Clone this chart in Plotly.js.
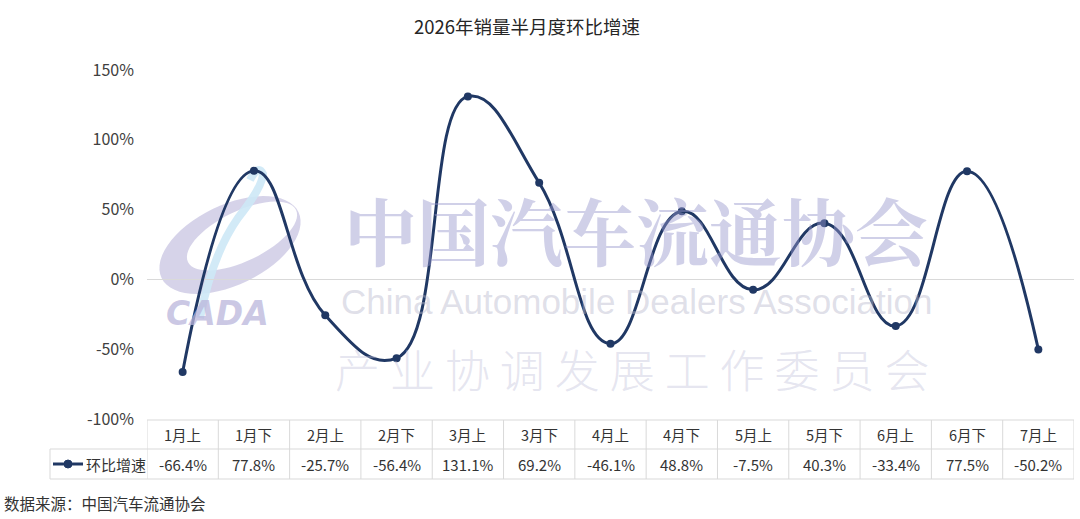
<!DOCTYPE html>
<html>
<head>
<meta charset="utf-8">
<script src="https://cdn.plot.ly/plotly-3.0.1.min.js"></script>
<style>html,body{margin:0;padding:0;background:#fff}#chart{width:1080px;height:519px}</style>
</head>
<body>
<div id="chart"></div>
<script>
// ---- data ----
var categories = ['1月上','1月下','2月上','2月下','3月上','3月下','4月上','4月下','5月上','5月下','6月上','6月下','7月上'];
var seriesName = '环比增速';
var values = [-66.4, 77.8, -25.7, -56.4, 131.1, 69.2, -46.1, 48.8, -7.5, 40.3, -33.4, 77.5, -50.2];
var yTickValues = [-100, -50, 0, 50, 100, 150];
var titleText = '2026年销量半月度环比增速';
var sourceText = '数据来源：中国汽车流通协会';

// ---- layout helpers (pixel -> paper) ----
var W = 1080, H = 519, L = 147, R = 6, T = 70, B = 100;
var PW = W - L - R, PH = H - T - B;
function X(px){ return (px - L) / PW; }
function Y(py){ return (H - B - py) / PH; }
var navy = '#203864';
var border = '#d9d9d9';
var cjk = '"Microsoft YaHei","Noto Sans CJK SC","Noto Sans",sans-serif';

var shapes = [];
var annotations = [];

// watermark logo (below traces)
function ellipsePts(cx, cy, a, b, rot, n, reverse){
  var pts = [];
  for (var i = 0; i <= n; i++){
    var t = (reverse ? -1 : 1) * 2 * Math.PI * i / n;
    var ex = a * Math.cos(t), ey = b * Math.sin(t);
    var c = Math.cos(rot), s = Math.sin(rot);
    pts.push([cx + ex * c - ey * s, cy + ex * s + ey * c]);
  }
  return pts;
}
function toPath(pts){
  return pts.map(function(p, i){ return (i ? 'L' : 'M') + X(p[0]).toFixed(5) + ',' + Y(p[1]).toFixed(5); }).join(' ') + ' Z';
}
var rot = -0.45;
var outer = ellipsePts(230, 245, 76, 40, rot, 60, false);
var inner = ellipsePts(242, 236, 60, 25, rot, 60, true);
shapes.push({type:'path', xref:'paper', yref:'paper', layer:'below', path: toPath(outer) + ' ' + toPath(inner),
  fillcolor:'rgba(204,200,228,0.8)', line:{width:0}});
shapes.push({type:'path', xref:'paper', yref:'paper', layer:'below',
  path: 'M' + X(200) + ',' + Y(318) + ' Q' + X(212) + ',' + Y(255) + ' ' + X(238) + ',' + Y(218) +
        ' Q' + X(262) + ',' + Y(188) + ' ' + X(263) + ',' + Y(174) +
        ' Q' + X(258) + ',' + Y(164) + ' ' + X(250) + ',' + Y(180),
  line:{color:'rgba(205,232,246,0.9)', width:8}});

// table grid
var yTop = Y(420), yMid = Y(449), yBot = Y(479);
shapes.push({type:'line', xref:'paper', yref:'paper', x0:0, x1:1, y0:yTop, y1:yTop, line:{color:border, width:1}});
shapes.push({type:'line', xref:'paper', yref:'paper', x0:X(50), x1:1, y0:yMid, y1:yMid, line:{color:border, width:1}});
shapes.push({type:'line', xref:'paper', yref:'paper', x0:X(50), x1:1, y0:yBot, y1:yBot, line:{color:border, width:1}});
shapes.push({type:'line', xref:'paper', yref:'paper', x0:X(50), x1:X(50), y0:yMid, y1:yBot, line:{color:border, width:1}});
for (var i = 0; i <= categories.length; i++){
  shapes.push({type:'line', xref:'x', yref:'paper', x0:i - 0.5, x1:i - 0.5, y0:yTop, y1:yBot, line:{color:border, width:1}});
}
// legend key in table
shapes.push({type:'line', xref:'paper', yref:'paper', x0:X(53), x1:X(83), y0:Y(464), y1:Y(464), line:{color:navy, width:3}});
shapes.push({type:'circle', xref:'paper', yref:'paper', x0:X(64), x1:X(72), y0:Y(468), y1:Y(460), fillcolor:navy, line:{color:navy, width:1}});
annotations.push({xref:'paper', yref:'paper', x:X(84), y:Y(464), xanchor:'left', yanchor:'middle', showarrow:false,
  text:seriesName, font:{family:cjk, size:15, color:'#333333'}});

categories.forEach(function(c, i){
  annotations.push({xref:'x', yref:'paper', x:i, y:Y(435), xanchor:'center', yanchor:'middle', showarrow:false,
    text:c, font:{family:cjk, size:14.5, color:'#333333'}});
  annotations.push({xref:'x', yref:'paper', x:i, y:Y(464), xanchor:'center', yanchor:'middle', showarrow:false,
    text:values[i].toFixed(1) + '%', font:{family:cjk, size:15, color:'#333333'}});
});

// watermark text
annotations.push({xref:'paper', yref:'paper', x:X(636), y:Y(228), xanchor:'center', yanchor:'middle', showarrow:false,
  text:'中国汽车流通协会', font:{family:'"Noto Serif CJK SC","Noto Sans CJK SC",serif', size:73, color:'rgba(150,150,205,0.45)', weight:'bold'}});
annotations.push({xref:'paper', yref:'paper', x:X(636), y:Y(301), xanchor:'center', yanchor:'middle', showarrow:false,
  text:'China Automobile Dealers Association', font:{family:'"Liberation Sans",Arial,sans-serif', size:35, color:'rgba(185,185,205,0.45)'}});
annotations.push({xref:'paper', yref:'paper', x:X(632), y:Y(368), xanchor:'center', yanchor:'middle', showarrow:false,
  text:'产 业 协 调 发 展 工 作 委 员 会', font:{family:'"Noto Sans CJK SC",sans-serif', size:45, color:'rgba(190,190,215,0.4)', weight:300}});
annotations.push({xref:'paper', yref:'paper', x:X(217), y:Y(313), xanchor:'center', yanchor:'middle', showarrow:false,
  text:'<i><b>CADA</b></i>', font:{family:'"DejaVu Sans",sans-serif', size:33, color:'rgba(186,182,220,0.75)'}});

// source note
annotations.push({xref:'paper', yref:'paper', x:X(2), y:Y(503), xanchor:'left', yanchor:'middle', showarrow:false,
  text:sourceText, font:{family:cjk, size:15.5, color:'#333333'}});

var trace = {
  type:'scatter', mode:'lines+markers', name:seriesName,
  x:categories, y:values,
  line:{color:navy, width:3, shape:'spline', smoothing:1.3},
  marker:{color:navy, size:8},
  cliponaxis:false, hoverinfo:'skip'
};

var layout = {
  width:W, height:H,
  margin:{l:L, r:R, t:T, b:B, pad:0},
  paper_bgcolor:'#ffffff', plot_bgcolor:'rgba(0,0,0,0)',
  showlegend:false,
  title:{text:titleText, x:527/W, xref:'container', xanchor:'center', y:1 - 28/H, yref:'container', yanchor:'middle',
    font:{family:cjk, size:18.5, color:'#262626'}},
  xaxis:{type:'category', range:[-0.5, categories.length - 0.5], showticklabels:false, showgrid:false, zeroline:false,
    showline:false, ticks:'', fixedrange:true},
  yaxis:{range:[-100, 150], tickvals:yTickValues, ticktext:yTickValues.map(function(v){return v + '%';}),
    showgrid:false, zeroline:true, zerolinecolor:'#d9d9d9', zerolinewidth:1, showline:false, ticks:'',
    ticklabelstandoff:12, tickfont:{family:cjk, size:16, color:'#404040'}, fixedrange:true},
  shapes:shapes, annotations:annotations
};

Plotly.newPlot('chart', [trace], layout, {displayModeBar:false, staticPlot:true});
</script>
</body>
</html>
